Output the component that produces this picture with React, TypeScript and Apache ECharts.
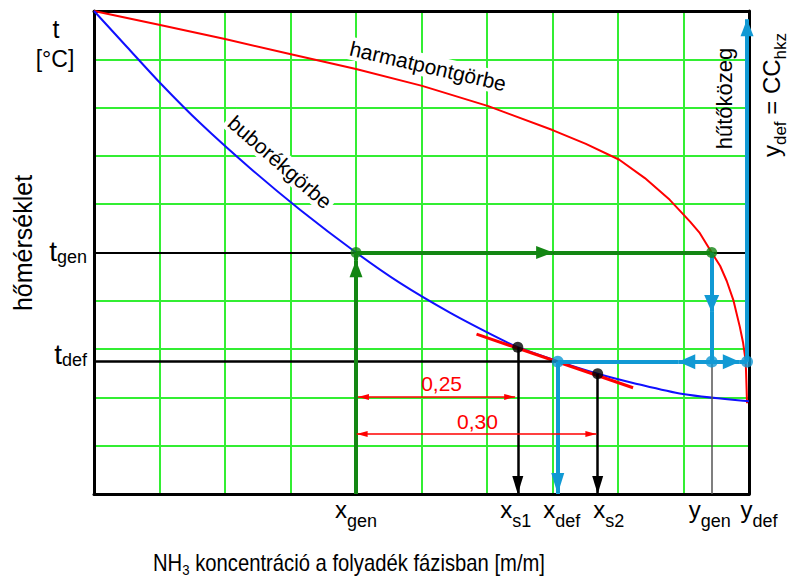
import { useEffect, useRef } from 'react';
import * as echarts from 'echarts';

const FONT = '"Liberation Sans", Arial, Helvetica, sans-serif';

// harmatpontgörbe (dew-point curve): [concentration, temperature] in grid units
const dewCurve: number[][] = [
  [0, 10], [1.01, 9.71], [2, 9.42], [2.99, 9.11], [4, 8.8], [5.01, 8.45],
  [6.02, 8.03], [7.01, 7.53], [7.51, 7.25], [8.02, 6.92], [8.41, 6.54],
  [8.79, 6.09], [9.1, 5.64], [9.25, 5.4], [9.43, 5.0], [9.56, 4.72],
  [9.66, 4.41], [9.76, 4.02], [9.86, 3.46], [9.91, 3.13], [9.95, 2.75],
  [9.97, 1.88],
];

// buborékgörbe (bubble-point curve)
const bubbleCurve: number[][] = [
  [0, 10], [0.5, 9.26], [1.01, 8.51], [1.62, 7.68], [2.38, 6.75], [3.15, 5.88],
  [4, 5], [4.67, 4.37], [5.44, 3.75], [6.2, 3.21], [6.47, 3.04], [7.08, 2.75],
  [7.69, 2.49], [8.23, 2.3], [8.99, 2.07], [10, 1.92],
];

// tangent to the bubble curve at x_def
const tangentLine: number[][] = [[5.84, 3.31], [8.23, 2.2]];

// characteristic concentrations
const X_GEN = 4;
const X_S1 = 6.47;
const X_DEF = 7.08;
const X_S2 = 7.69;
const Y_GEN = 9.43;
const Y_DEF = 9.97;
// characteristic temperatures
const T_GEN = 5;
const T_DEF = 2.74;
const T_S1 = 3.04;
const T_S2 = 2.49;
// dimension lines (0,25 / 0,30)
const DIM_LEVELS = [2.01, 1.24];
const DIM_ENDS = [[4.03, 6.43], [4.01, 7.67]];
const DIM_LABELS = ['0,25', '0,30'];
// arrow tip positions along the construction lines
const TIP_GREEN_UP = 4.84;
const TIP_GREEN_RIGHT = 7.01;
const TIP_BLUE_DOWN = 3.77;
const TIP_BLUE_LEFT = 8.92;
const TIP_BLUE_RIGHT = 9.86;
const TIP_BLUE_TOP = 9.83;

// tick labels
const xTickNames = [['x', 'gen'], ['x', 's1'], ['x', 'def'], ['x', 's2'], ['y', 'gen'], ['y', 'def']];
const xTickValues = [X_GEN, X_S1, X_DEF, X_S2, Y_GEN, Y_DEF];
const xTickShift = [0, -2, 4, 11, -2, 12];
const tTickNames = [['t', 'gen'], ['t', 'def']];
const tTickValues = [T_GEN, T_DEF];
const tTickShift = [-14.6, -20.8];

const GREEN = '#138613';
const BLUE = '#1199d4';
const RED = '#ff0000';

function seg(a: number[], b: number[], color: string, width: number, arrowEnd?: number[], arrowStart?: number[]) {
  return [
    {
      coord: a,
      symbol: arrowStart ? 'triangle' : 'none',
      symbolSize: arrowStart || 1,
      symbolOffset: [0, '50%'],
      lineStyle: { color, width, type: 'solid', cap: 'butt' },
    },
    {
      coord: b,
      symbol: arrowEnd ? 'triangle' : 'none',
      symbolSize: arrowEnd || 1,
      symbolOffset: [0, '50%'],
    },
  ];
}

export default function App() {
  const ref = useRef<HTMLDivElement>(null);
  useEffect(() => {
    const chart = echarts.init(ref.current!, null, { renderer: 'svg' });

    const axisCommon = {
      type: 'value',
      min: 0,
      max: 10,
      interval: 1,
      axisTick: { show: false },
      axisLabel: { show: false },
    };
    const gridLine = {
      show: true,
      showMinLine: false,
      showMaxLine: false,
      lineStyle: { color: '#33ee33', width: 2 },
    };
    const border = { show: true, onZero: false, lineStyle: { color: '#000', width: 3 } };

    const refLines = [
      seg([0, T_GEN], [10, T_GEN], '#000', 2),
      seg([0, T_DEF], [X_DEF, T_DEF], '#000', 2.5),
      seg([Y_GEN, T_DEF], [Y_GEN, 0], '#555', 1.5),
    ];

    const arrows = [
      // green construction
      seg([X_GEN, 0], [X_GEN, TIP_GREEN_UP], GREEN, 4, [13, 17]),
      seg([X_GEN, TIP_GREEN_UP], [X_GEN, T_GEN], GREEN, 4),
      seg([X_GEN, T_GEN], [TIP_GREEN_RIGHT, T_GEN], GREEN, 4, [13, 17]),
      seg([TIP_GREEN_RIGHT, T_GEN], [Y_GEN, T_GEN], GREEN, 4),
      // blue construction
      seg([Y_GEN, T_GEN], [Y_GEN, TIP_BLUE_DOWN], BLUE, 4, [15, 17]),
      seg([Y_GEN, TIP_BLUE_DOWN], [Y_GEN, T_DEF], BLUE, 4),
      seg([Y_GEN, T_DEF], [TIP_BLUE_LEFT, T_DEF], BLUE, 4, [15, 17]),
      seg([TIP_BLUE_LEFT, T_DEF], [X_DEF, T_DEF], BLUE, 4),
      seg([Y_GEN, T_DEF], [TIP_BLUE_RIGHT, T_DEF], BLUE, 4, [15, 17]),
      seg([TIP_BLUE_RIGHT, T_DEF], [Y_DEF, T_DEF], BLUE, 4),
      seg([X_DEF, T_DEF], [X_DEF, 0], BLUE, 4, [13, 21]),
      seg([Y_DEF, T_DEF], [Y_DEF, TIP_BLUE_TOP], BLUE, 4, [13, 17]),
      // black drop lines
      seg([X_S1, T_S1], [X_S1, 0], '#000', 2.5, [11, 18]),
      seg([X_S2, T_S2], [X_S2, 0], '#000', 2.5, [11, 18]),
      // red dimension lines
      seg([DIM_ENDS[0][0], DIM_LEVELS[0]], [DIM_ENDS[0][1], DIM_LEVELS[0]], RED, 1.5, [6, 11], [6, 11]),
      seg([DIM_ENDS[1][0], DIM_LEVELS[1]], [DIM_ENDS[1][1], DIM_LEVELS[1]], RED, 1.5, [6, 11], [6, 11]),
    ];

    const markLineBase = {
      silent: true,
      symbol: ['none', 'none'],
      label: { show: false },
      emphasis: { disabled: true },
      animation: false,
    };

    chart.setOption({
      animation: false,
      textStyle: { fontFamily: FONT },
      grid: { left: 94, top: 11, width: 655, height: 483, containLabel: false },
      xAxis: [
        { ...axisCommon, position: 'bottom', axisLine: border, splitLine: gridLine },
        { ...axisCommon, position: 'top', axisLine: border, splitLine: { show: false } },
      ],
      yAxis: [
        { ...axisCommon, position: 'left', axisLine: border, splitLine: gridLine },
        { ...axisCommon, position: 'right', axisLine: border, splitLine: { show: false } },
      ],
      series: [
        {
          type: 'line',
          z: 2,
          data: [],
          markLine: { ...markLineBase, data: refLines },
        },
        {
          type: 'line',
          z: 3,
          data: dewCurve,
          showSymbol: false,
          smooth: false,
          lineStyle: { color: RED, width: 2, join: 'round' },
          silent: true,
        },
        {
          type: 'line',
          z: 3,
          data: bubbleCurve,
          showSymbol: false,
          smooth: 0.3,
          lineStyle: { color: '#1010ff', width: 2 },
          silent: true,
        },
        {
          type: 'line',
          z: 4,
          data: tangentLine,
          showSymbol: false,
          lineStyle: { color: RED, width: 3 },
          silent: true,
        },
        {
          type: 'line',
          z: 5,
          data: [],
          markLine: { ...markLineBase, data: arrows },
        },
        {
          type: 'scatter',
          z: 6,
          silent: true,
          symbolSize: 11,
          itemStyle: { color: GREEN },
          data: [[X_GEN, T_GEN], [Y_GEN, T_GEN]],
        },
        {
          type: 'scatter',
          z: 6,
          silent: true,
          symbolSize: 12,
          itemStyle: { color: BLUE },
          data: [[X_DEF, T_DEF], [Y_GEN, T_DEF], [Y_DEF, T_DEF]],
        },
        {
          type: 'scatter',
          z: 6,
          silent: true,
          symbolSize: 11,
          itemStyle: { color: '#000' },
          data: [[X_S1, T_S1], [X_S2, T_S2]],
        },
      ],
    });

    const px = (x: number, y: number) => chart.convertToPixel({ gridIndex: 0 }, [x, y]) as number[];

    const text = (x: number, y: number, str: string, fontSize: number, extra: any = {}, styleExtra: any = {}) => ({
      type: 'text',
      x,
      y,
      z: 100,
      silent: true,
      ...extra,
      style: {
        text: str,
        fontSize,
        fontFamily: FONT,
        fill: '#000',
        align: 'center',
        verticalAlign: 'middle',
        ...styleExtra,
      },
    });

    // main glyphs top-aligned, subscript bottom-aligned inside a taller line box
    const subRich = (main: number, sub: number, lineBox: number) => ({
      m: { fontSize: main, lineHeight: main, verticalAlign: 'top', fontFamily: FONT, fill: '#000' },
      s: { fontSize: sub, lineHeight: lineBox, verticalAlign: 'bottom', fontFamily: FONT, fill: '#000' },
    });

    const graphics: any[] = [];
    // x tick labels
    xTickNames.forEach((nm, i) => {
      const p = px(xTickValues[i], 0);
      graphics.push(
        text(p[0] + xTickShift[i], 497.6, `{m|${nm[0]}}{s|${nm[1]}}`, 24, {}, {
          verticalAlign: 'top',
          rich: subRich(24, 18, 32.1),
        })
      );
    });
    // t tick labels
    tTickNames.forEach((nm, i) => {
      const p = px(0, tTickValues[i]);
      graphics.push(
        text(p[0] - 7, p[1] + tTickShift[i], `{m|${nm[0]}}{s|${nm[1]}}`, 28, {}, {
          align: 'right',
          verticalAlign: 'top',
          rich: subRich(28, 18, 28.5),
        })
      );
    });
    // dimension labels
    DIM_LABELS.forEach((lab, i) => {
      const a = px(DIM_ENDS[i][0], DIM_LEVELS[i]);
      const b = px(DIM_ENDS[i][1], DIM_LEVELS[i]);
      graphics.push(text((a[0] + b[0]) / 2 + (i === 0 ? 5 : 1), a[1] - 13, lab, 21, {}, { fill: RED }));
    });

    graphics.push(
      text(56, 28.5, 't', 25),
      text(55, 59, '[°C]', 23),
      text(23, 243, 'hőmérséklet', 25, { rotation: Math.PI / 2 }),
      text(349, 552, '{n|NH}{s|3}{n| koncentráció a folyadék fázisban [m/m]}', 23, { scaleX: 0.88 }, {
        verticalAlign: 'top',
        rich: {
          n: { fontSize: 23, lineHeight: 23, verticalAlign: 'top', fontFamily: FONT, fill: '#000' },
          s: { fontSize: 15, lineHeight: 25.1, verticalAlign: 'bottom', fontFamily: FONT, fill: '#000' },
        },
      }),
      text(759, 95, '{m|y}{s|def}{m| = CC}{s|hkz}', 24, { rotation: Math.PI / 2 }, {
        verticalAlign: 'top',
        rich: subRich(24, 17, 30),
      }),
      text(724, 98.5, 'hűtőközeg', 22, { rotation: Math.PI / 2 }),
      text(428, 66, 'harmatpontgörbe', 21, { rotation: (-13 * Math.PI) / 180 }, {
        backgroundColor: '#fff',
        padding: [1, 3],
      }),
      text(280, 162, 'buborékgörbe', 21, { rotation: (-41 * Math.PI) / 180 }, {
        backgroundColor: '#fff',
        padding: [1, 3],
      })
    );

    chart.setOption({ graphic: graphics });

    return () => chart.dispose();
  }, []);

  return (
    <div
      ref={ref}
      style={{ position: 'fixed', left: 0, top: 0, width: 793, height: 581, background: '#fff' }}
    />
  );
}
